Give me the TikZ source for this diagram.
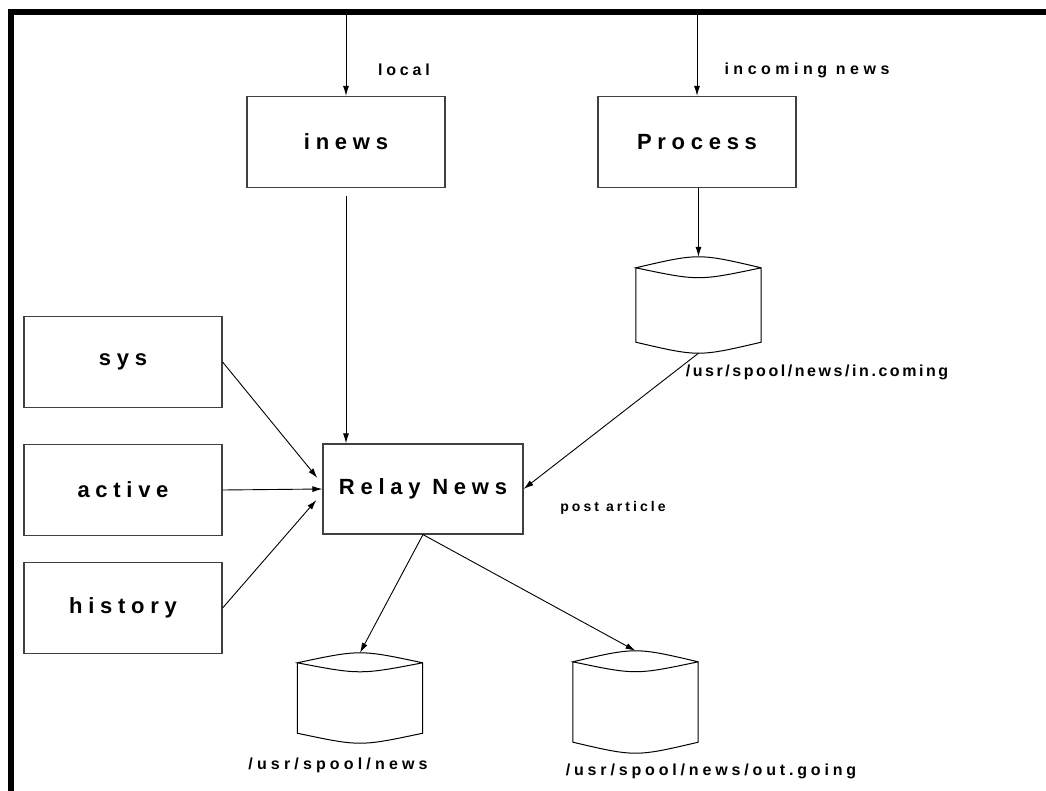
\documentclass[tikz,border=0pt]{standalone}
\usepackage{fontspec}
\usepackage{tikz}
\usetikzlibrary{calc,
	positioning,
	arrows.meta}
\newfontfamily\lblfont{Liberation Sans}[UprightFont={* Bold}]
\newfontfamily\boxfont{Liberation Sans}[UprightFont={* Bold}, LetterSpace=26]

\newcommand{\drawdisk}[2]{%
    \coordinate (#1-tl) at ($(#1.north west)+(0,#2)$);
    \coordinate (#1-tr) at ($(#1.north east)+(0,#2)$);
    \coordinate (#1-bl) at ($(#1.south west)+(0,-#2)$);
    \coordinate (#1-br) at ($(#1.south east)+(0,-#2)$);
    \draw[line width=1pt] (#1-tl) -- (#1-bl)
        .. controls ($(#1.south)+(0,#2/3)$) .. (#1-br) -- (#1-tr)
        .. controls ($(#1.north)+(0,-#2/3)$) .. (#1-tl)
        .. controls ($(#1.north)+(0,#2*2.2)$) .. (#1-tr);
}

\begin{document}
\begin{tikzpicture}[
        x=1pt, y=-1pt,
        procbox/.style={draw=black!75, line width=1.2pt, minimum width=198pt, minimum height=91pt,
                inner sep=0pt, font=\boxfont\fontsize{22}{26}\selectfont},
        disk/.style={inner sep=0pt, minimum width=125pt},
        lbl/.style={inner sep=0pt,
                font=\lblfont\fontsize{16}{19}\selectfont\addfontfeature{LetterSpace=#1}},
        lbl/.default=24,
        flow/.style={-{Latex[length=10pt,width=6pt]}, line width=0.9pt}
    ]
            \useasboundingbox (0,0) rectangle (1046,791);
            \draw[line width=6pt] (8,12) -- (1046,12);
            \draw[line width=6pt] (11,9) -- (11,791);

            \node[procbox] (inews) at (346,142) {inews};
            \node[procbox] (process) at (697,142) {Process};
            \node[procbox] (sys) at (123,362) {sys};
            \node[procbox] (active) at (123,490) {active};
            \node[procbox] (history) at (123,608) {history};
            \node[procbox, minimum width=200pt, minimum height=90pt] (relay) at (423,489) {Relay News};

            \node[disk, minimum height=96pt] (incoming) at (698.5,305) {};
            \node[disk, minimum height=90pt] (spool) at (360,698) {};
            \node[disk, minimum height=102pt] (outgoing) at (635.5,702) {};
            \drawdisk{incoming}{11}
            \drawdisk{spool}{10}
            \drawdisk{outgoing}{11}

            \node[lbl] (locallbl) at (404,70) {local};
            \node[lbl=28] (newslbl) at (807,70) {incoming news};
            \node[lbl=16] (incominglbl) at (817,372) {/usr/spool/news/in.coming};
            \node[inner sep=0pt, font=\lblfont\fontsize{14}{17}\selectfont\addfontfeature{LetterSpace=22}]
                (postlbl) at (613,508) {post article};
            \node[lbl=26] (spoollbl) at (338,765) {/usr/spool/news};
            \node[lbl] (outgoinglbl) at (711,771) {/usr/spool/news/out.going};

            \coordinate (localin) at (346,15);
            \coordinate (newsin) at (697,15);
            \draw[flow] (localin) -- (inews.north);
            \draw[flow] (newsin) -- (process.north);
            \draw[flow] ($(inews.south)+(0,8)$) -- (inews.south |- relay.north);
            \draw[flow] (process.south -| incoming.north) -- (incoming.north);
            \draw[flow] (incoming.south) -- (relay.east);
            \draw[flow] (sys.east) -- ($(relay.west)+(-5,-11)$);
            \draw[flow] (active.east) -- (relay.west);
            \draw[flow] (history.east) -- ($(relay.west)+(-6,11)$);
            \draw[flow] (relay.south) -- (spool.north);
            \draw[flow] (relay.south) -- (outgoing.north);
        \end{tikzpicture}
\end{document}
